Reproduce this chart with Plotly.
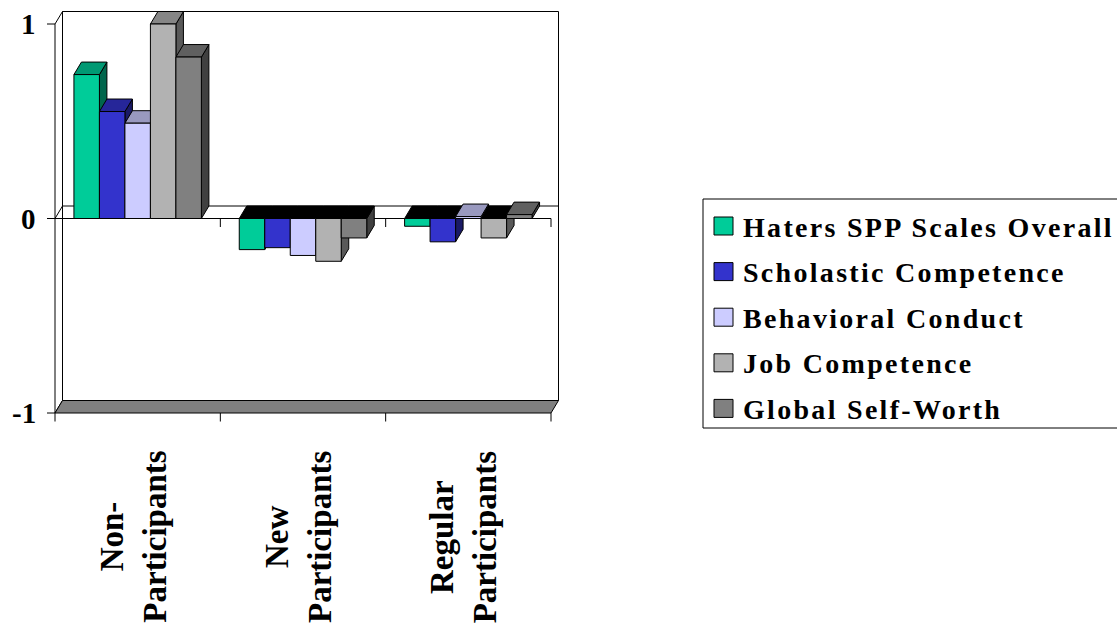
import plotly.graph_objects as go

# ---- data -------------------------------------------------------------
groups = ["Non-<br>Participants", "New<br>Participants", "Regular<br>Participants"]
series = [
    "Haters SPP Scales Overall",
    "Scholastic Competence",
    "Behavioral Conduct",
    "Job Competence",
    "Global Self-Worth",
]
haters_overall = [0.74, -0.16, -0.04]
scholastic = [0.55, -0.15, -0.12]
behavioral = [0.49, -0.19, 0.01]
job = [1.00, -0.22, -0.10]
self_worth = [0.83, -0.10, 0.02]
y_ticks = [1, 0, -1]

values = [haters_overall, scholastic, behavioral, job, self_worth]
colors = ["#00CC99", "#3333CC", "#CCCCFF", "#B2B2B2", "#808080"]

# ---- geometry ---------------------------------------------------------
W, H = 1117, 631
AX_L, AX_R = 55, 551          # front category axis, pixels
AX_T, AX_B = 24, 413          # value +1 / -1, pixels
cat_px = (AX_R - AX_L) / len(groups)
unit_px = (AX_B - AX_T) / 2.0
XR = [-0.5 - AX_L / cat_px, -0.5 + (W - AX_L) / cat_px]
YR = [-1 - (H - AX_B) / unit_px, 1 + AX_T / unit_px]
DX = 7.5 / cat_px             # depth offset
DY = 12.5 / unit_px
GROUP = 0.771                 # fraction of a category filled by bars
BW = GROUP / len(series)
XL, XRT = -0.5, len(groups) - 0.5
TICK_X = 8 / cat_px
TICK_Y = 8.5 / unit_px


def yd(py):
    return YR[1] - py / unit_px


def shade(hexcol, f):
    r, g, b = (int(hexcol[i:i + 2], 16) for i in (1, 3, 5))
    return "rgb(%d,%d,%d)" % (round(r * f), round(g * f), round(b * f))


shapes = []


def add_poly(pts, fill, lw=1, lc="black", closed=True):
    path = "M " + " L ".join("%.5f,%.5f" % p for p in pts) + (" Z" if closed else "")
    shapes.append(dict(type="path", path=path, xref="x", yref="y", layer="below",
                       fillcolor=fill if closed else None,
                       line=dict(color=lc, width=lw)))


# walls and floor
add_poly([(XL + DX, -1 + DY), (XRT + DX, -1 + DY), (XRT + DX, 1 + DY), (XL + DX, 1 + DY)], "white")
add_poly([(XL, -1), (XL, 1), (XL + DX, 1 + DY), (XL + DX, -1 + DY)], "white")
add_poly([(XL, -1), (XRT, -1), (XRT + DX, -1 + DY), (XL + DX, -1 + DY)], "#808080")

# zero plane and axis ticks
add_poly([(XL - TICK_X, 0), (XRT, 0)], None, closed=False)
add_poly([(XL, 0), (XL + DX, DY), (XRT + DX, DY)], None, closed=False)
for v in y_ticks:
    add_poly([(XL - TICK_X, v), (XL, v)], None, closed=False)
add_poly([(XL, -1), (XL, -1 - TICK_Y)], None, closed=False)
for k in range(1, len(groups) + 1):
    xb = XL + k
    add_poly([(xb, 0), (xb, -TICK_Y)], None, closed=False)
    add_poly([(xb, -1), (xb, -1 - TICK_Y)], None, closed=False)

# top and side faces of every bar, painted left to right
for c in range(len(groups)):
    for i, (vals, col) in enumerate(zip(values, colors)):
        v = vals[c]
        x0 = c - GROUP / 2 + BW * i
        x1 = x0 + BW
        add_poly([(x1, 0), (x1, v), (x1 + DX, v + DY), (x1 + DX, DY)], shade(col, 0.5))
        if v >= 0:
            add_poly([(x0, v), (x1, v), (x1 + DX, v + DY), (x0 + DX, v + DY)], shade(col, 0.75))
        else:
            add_poly([(x0, 0), (x1, 0), (x1 + DX, DY), (x0 + DX, DY)], "black")

fig = go.Figure()
for i, (name, vals, col) in enumerate(zip(series, values, colors)):
    fig.add_trace(go.Bar(
        name=name, x=list(range(len(groups))), y=vals,
        width=BW, offset=-GROUP / 2 + BW * i,
        marker=dict(color=col, line=dict(color="black", width=1)),
        showlegend=False,
    ))

annotations = []
serif = "Liberation Serif"

# value axis labels
for v in y_ticks:
    annotations.append(dict(x=XL, y=v, xref="x", yref="y", text="<b>%d</b>" % v,
                            showarrow=False, xanchor="right", yanchor="middle",
                            xshift=-17, font=dict(family=serif, size=29, color="black")))

# category labels
for c, g in enumerate(groups):
    annotations.append(dict(x=c, y=yd(537), xref="x", yref="y", text="<b>%s</b>" % g, textangle=-90,
                            showarrow=False, xanchor="center", yanchor="middle", xshift=-5,
                            font=dict(family=serif, size=33, color="black")))

# legend box
shapes.append(dict(type="rect", xref="paper", yref="paper",
                   x0=703 / W, x1=1.02, y0=1 - 428 / H, y1=1 - 199 / H,
                   line=dict(color="black", width=1), fillcolor="white"))
for i, (name, col) in enumerate(zip(series, colors)):
    cy = 226 + 45.6 * i
    shapes.append(dict(type="rect", xref="paper", yref="paper",
                       x0=714 / W, x1=733 / W, y0=1 - (cy + 9) / H, y1=1 - (cy - 9) / H,
                       line=dict(color="black", width=1), fillcolor=col))
    annotations.append(dict(
        x=741 / W, y=1 - (cy + 1) / H, xref="paper", yref="paper",
        text="<b><span style=\"letter-spacing:2.3px\">%s</span></b>" % name,
        showarrow=False, xanchor="left", yanchor="middle",
        font=dict(family=serif, size=28, color="black")))

fig.update_layout(
    width=W, height=H, margin=dict(l=0, r=0, t=0, b=0),
    paper_bgcolor="white", plot_bgcolor="white",
    barmode="overlay",
    xaxis=dict(range=XR, visible=False, fixedrange=True),
    yaxis=dict(range=YR, visible=False, fixedrange=True),
    shapes=shapes, annotations=annotations,
)

fig.write_html("out.html")
